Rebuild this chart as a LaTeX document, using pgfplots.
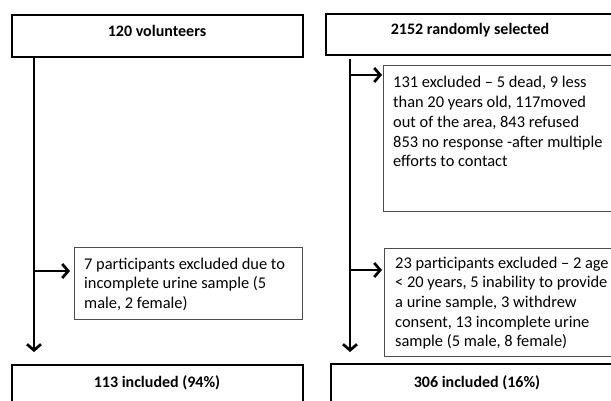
\documentclass[border=0pt]{standalone}
\usepackage{pgfplots}
\pgfplotsset{compat=1.18}
\usetikzlibrary{arrows.meta}
\usepackage{fontspec}
\setmainfont{Carlito}
\begin{document}
\begin{tikzpicture}[
  body/.style={anchor=base west,align=left,inner sep=0pt,font=\fontsize{16.4}{19.7}\selectfont},
  ttl/.style={anchor=base,inner sep=0pt,font=\fontsize{16}{19.7}\selectfont\bfseries},
  mainbox/.style={black,line width=2pt,line cap=rect,line join=miter},
  exbox/.style={black!70,line width=1pt,line cap=rect,line join=miter},
  arr/.style={black,line width=2.7pt,-{Straight Barb[length=6pt,width=14pt]}}]
\begin{axis}[x=1pt,y=1pt,xmin=0,xmax=611,ymin=0,ymax=401,y dir=reverse,
  hide axis,clip=true]
\addplot[draw=none] coordinates {(0,0) (611,401)};
% main boxes
\addplot[mainbox] coordinates {(12,15) (303,15) (303,57) (12,57) (12,15)};
\addplot[mainbox] coordinates {(326,14) (620,14) (620,55) (326,55) (326,14)};
\addplot[mainbox] coordinates {(12,420) (12,365) (303,365) (303,420)};
\addplot[mainbox] coordinates {(331,420) (331,364) (620,364) (620,420)};
% exclusion boxes
\addplot[exbox] coordinates {(74,247) (302,247) (302,319) (74,319) (74,247)};
\addplot[exbox] coordinates {(383,66) (620,66) (620,212) (383,212) (383,66)};
\addplot[exbox] coordinates {(384,248) (620,248) (620,356) (384,356) (384,248)};
% flow lines
\addplot[arr] coordinates {(34,57) (34,352)};
\addplot[arr] coordinates {(34,271) (70,271)};
\addplot[arr] coordinates {(350,59) (350,352)};
\addplot[arr] coordinates {(350,75) (382,75)};
\addplot[arr] coordinates {(350,270) (382,270)};
% texts
\node[ttl] at (axis cs:157,37) {120 volunteers};
\node[ttl] at (axis cs:470,35) {2152 randomly selected};
\node[ttl] at (axis cs:157,387) {113 included (94\%)};
\node[ttl] at (axis cs:477,387) {306 included (16\%)};
\node[body] at (axis cs:84,308.4) {7 participants excluded due to\\incomplete urine sample (5\\male, 2 female)};
\node[body] at (axis cs:393,166.8) {131 excluded -- 5 dead, 9 less\\than 20 years old, 117moved\\out of the area, 843 refused\\853 no response -after multiple\\efforts to contact};
\node[body] at (axis cs:395,346.8) {23 participants excluded -- 2 age\\< 20 years, 5 inability to provide\\a urine sample, 3 withdrew\\consent, 13 incomplete urine\\sample (5 male, 8 female)};
\end{axis}
\end{tikzpicture}
\end{document}
